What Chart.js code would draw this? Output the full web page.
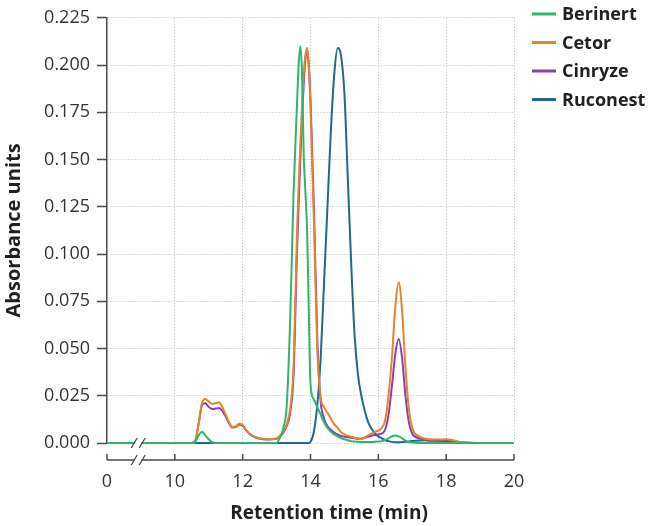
<!DOCTYPE html>
<html>
<head>
<meta charset="utf-8">
<script src="https://cdn.jsdelivr.net/npm/chart.js@4"></script>
<style>
  html, body { margin: 0; padding: 0; background: #fff; }
  canvas { display: block; }
</style>
</head>
<body>
<canvas id="hplcChart" width="650" height="526"></canvas>
<script>
// Size-exclusion HPLC traces of four C1-INH products
const retentionTime = [
    0, 10.0, 10.5, 10.6, 10.7, 10.8, 10.9, 11.0, 11.1, 11.2,
    11.3, 11.4, 11.5, 11.6, 11.7, 11.8, 11.9, 12.0, 12.1, 12.2,
    12.4, 12.6, 12.8, 13.0, 13.1, 13.2, 13.3, 13.4, 13.5, 13.6,
    13.65, 13.7, 13.75, 13.8, 13.85, 13.9, 13.95,
    14.0, 14.1, 14.2, 14.3, 14.4, 14.5, 14.6,
    14.7, 14.8, 14.9, 15.0, 15.1, 15.2, 15.3, 15.4, 15.5, 15.6,
    15.7, 15.8, 15.9, 16.0, 16.1, 16.2, 16.3, 16.4, 16.5, 16.6,
    16.7, 16.8, 16.9, 17.0, 17.2, 17.4, 17.6, 17.8, 18.0, 18.2,
    18.4, 18.6, 19.0, 20.0
];

const berinert = [
    0, 0, 0, 0.0005, 0.004, 0.006, 0.004, 0.002, 0.0005, 0,
    0, 0, 0, 0, 0, 0, 0, 0, 0, 0,
    0, 0, 0, 0, 0.003, 0.008, 0.02, 0.065, 0.132, 0.178,
    0.2, 0.21, 0.196, 0.152, 0.133, 0.112, 0.07,
    0.031, 0.023, 0.019, 0.015, 0.011, 0.008, 0.006,
    0.0045, 0.0035, 0.0025, 0.002, 0.0015, 0.001, 0.0008, 0.0006, 0.0005, 0.0005,
    0.0005, 0.0005, 0.0006, 0.0008, 0.001, 0.0015, 0.0025, 0.0035, 0.004, 0.0035,
    0.0025, 0.0012, 0.0005, 0.0002, 0, 0, 0, 0, 0, 0,
    0, 0, 0, 0
];

const cetor = [
    0, 0, 0, 0.001, 0.01, 0.021, 0.0233, 0.022, 0.0207, 0.021,
    0.0216, 0.019, 0.015, 0.011, 0.0085, 0.0088, 0.0103, 0.0095, 0.007, 0.005,
    0.003, 0.0022, 0.002, 0.0025, 0.004, 0.006, 0.01, 0.018, 0.04, 0.11,
    0.136, 0.158, 0.178, 0.195, 0.205, 0.209, 0.2,
    0.178, 0.118, 0.05, 0.024, 0.019, 0.016, 0.013,
    0.01, 0.008, 0.0058, 0.0045, 0.0038, 0.0033, 0.0028, 0.0023, 0.0022, 0.003,
    0.004, 0.005, 0.006, 0.0065, 0.008, 0.012, 0.025, 0.045, 0.072, 0.085,
    0.07, 0.04, 0.018, 0.008, 0.0035, 0.0022, 0.0018, 0.0018, 0.002, 0.0015,
    0.0006, 0.0002, 0, 0
];

const cinryze = [
    0, 0, 0, 0.001, 0.01, 0.02, 0.021, 0.019, 0.018, 0.0182,
    0.0185, 0.017, 0.014, 0.0105, 0.0082, 0.0085, 0.0098, 0.009, 0.0068, 0.0048,
    0.0028, 0.002, 0.0018, 0.0022, 0.0035, 0.0055, 0.009, 0.016, 0.036, 0.1,
    0.126, 0.15, 0.172, 0.19, 0.203, 0.208, 0.199,
    0.182, 0.125, 0.055, 0.022, 0.013, 0.009, 0.007,
    0.0055, 0.0045, 0.0037, 0.0033, 0.003, 0.0028, 0.0025, 0.0022, 0.0023, 0.0028,
    0.0033, 0.0038, 0.0042, 0.0045, 0.005, 0.007, 0.015, 0.03, 0.047, 0.055,
    0.045, 0.025, 0.011, 0.005, 0.0025, 0.0015, 0.0012, 0.0012, 0.0012, 0.0008,
    0.0004, 0.0001, 0, 0
];

const ruconest = [
    0, 0, 0, 0, 0, 0, 0, 0, 0, 0,
    0, 0, 0, 0, 0, 0, 0, 0, 0, 0,
    0, 0, 0, 0, 0, 0, 0, 0, 0, 0,
    0, 0, 0, 0, 0, 0, 0,
    0.0005, 0.006, 0.02, 0.045, 0.085, 0.125, 0.165,
    0.195, 0.209, 0.205, 0.185, 0.14, 0.095, 0.057, 0.036, 0.025, 0.017,
    0.011, 0.0075, 0.0052, 0.0035, 0.0025, 0.0015, 0.001, 0.0006, 0.0004, 0.0004,
    0.0005, 0.0006, 0.0008, 0.001, 0.0013, 0.0015, 0.0015, 0.0012, 0.001, 0.0006,
    0.0003, 0.0001, 0, 0
];

const seriesNames = ['Berinert', 'Cetor', 'Cinryze', 'Ruconest'];
const seriesValues = [berinert, cetor, cinryze, ruconest];
const seriesColors = ['#2db56e', '#e5832f', '#8b3fae', '#1e6a8c'];
const xTickValues = [0, 10, 12, 14, 16, 18, 20];
const yTickStep = 0.025;
const xTitle = 'Retention time (min)';

const FONT = '"Open Sans", "Noto Sans", sans-serif';
const AXIS_COLOR = '#4a4a4a';
const TEXT_COLOR = '#231f20';
const GRID_COLOR = '#b8b8b8';

// broken axis: 0..10 min squeezed into the width of 2 min
function axisPos(t) {
    return t < 10 ? 8 + t * 0.2 : t;
}
function axisLabel(u) {
    return u < 10 ? Math.round((u - 8) / 0.2) : u;
}

const breakPlugin = {
    id: 'breakAxis',
    afterDraw(chart) {
        const c = chart.ctx;
        const xs = chart.scales.x;
        const area = chart.chartArea;
        const axisY = area.bottom + 17;
        const bx = xs.getPixelForValue(axisPos(4.6));
        const x0 = xs.getPixelForValue(axisPos(0));
        const x1 = xs.getPixelForValue(20);
        c.save();
        c.strokeStyle = AXIS_COLOR;
        c.lineWidth = 1.5;
        // separate x axis line under the plot
        c.beginPath();
        c.moveTo(x0, axisY);
        c.lineTo(bx - 3, axisY);
        c.moveTo(bx + 3, axisY);
        c.lineTo(x1, axisY);
        xTickValues.forEach(v => {
            const px = xs.getPixelForValue(axisPos(v));
            c.moveTo(px, axisY);
            c.lineTo(px, axisY - 6);
        });
        c.stroke();
        // break marks on the axis and on the baseline
        [axisY, area.bottom].forEach(yy => {
            c.fillStyle = '#fff';
            c.fillRect(bx - 3, yy - 3, 6, 6);
            c.beginPath();
            c.moveTo(bx - 7, yy + 5);
            c.lineTo(bx - 1, yy - 5);
            c.moveTo(bx + 1, yy + 5);
            c.lineTo(bx + 7, yy - 5);
            c.lineWidth = 1.3;
            c.stroke();
        });
        // x title sits a little right of the axis centre
        c.font = 'bold 19px ' + FONT;
        c.fillStyle = TEXT_COLOR;
        c.textAlign = 'center';
        c.textBaseline = 'middle';
        c.fillText(xTitle, 329, 514);
        // legend
        c.font = 'bold 18px ' + FONT;
        c.textAlign = 'left';
        chart.data.datasets.forEach((ds, i) => {
            const ly = 14 + i * 28.5;
            c.strokeStyle = ds.borderColor;
            c.lineWidth = 3;
            c.beginPath();
            c.moveTo(532, ly);
            c.lineTo(556, ly);
            c.stroke();
            c.fillStyle = TEXT_COLOR;
            c.fillText(ds.label, 562, ly + 1);
        });
        c.restore();
    }
};

const ctx = document.getElementById('hplcChart').getContext('2d');
new Chart(ctx, {
    type: 'line',
    data: {
        datasets: seriesNames.map((name, i) => ({
            label: name,
            data: retentionTime.map((t, j) => ({ x: axisPos(t), y: seriesValues[i][j] })),
            borderColor: seriesColors[i],
            backgroundColor: seriesColors[i],
            borderWidth: 2,
            pointRadius: 0,
            cubicInterpolationMode: 'monotone',
            fill: false,
            clip: false
        }))
    },
    options: {
        responsive: false,
        animation: false,
        layout: { padding: { top: 12, right: 136, left: 0, bottom: 0 } },
        plugins: {
            legend: { display: false },
            tooltip: { enabled: false }
        },
        scales: {
            x: {
                type: 'linear',
                min: 8,
                max: 20,
                afterBuildTicks: scale => {
                    scale.ticks = xTickValues.map(v => ({ value: axisPos(v) }));
                },
                afterFit: scale => { scale.height = 83; },
                ticks: {
                    callback: v => axisLabel(v),
                    padding: 28,
                    maxRotation: 0,
                    color: '#333',
                    font: { family: FONT, size: 18 }
                },
                grid: {
                    color: c => (c.tick && c.tick.value < 10 ? 'rgba(0,0,0,0)' : GRID_COLOR),
                    lineWidth: 1,
                    drawTicks: false
                },
                border: { display: false, dash: [1, 2] },
                title: { display: false }
            },
            y: {
                min: 0,
                max: 0.225,
                afterFit: scale => { scale.width = 107; },
                ticks: {
                    stepSize: yTickStep,
                    callback: v => Number(v).toFixed(3),
                    padding: 7,
                    color: '#333',
                    font: { family: FONT, size: 18 }
                },
                grid: {
                    color: GRID_COLOR,
                    lineWidth: 1,
                    tickLength: 10,
                    tickColor: AXIS_COLOR,
                    tickWidth: 1.5,
                    tickBorderDash: []
                },
                border: { color: AXIS_COLOR, width: 1.5, dash: [1, 2] },
                title: {
                    display: true,
                    text: 'Absorbance units',
                    color: TEXT_COLOR,
                    font: { family: FONT, size: 20, weight: 'bold' },
                    padding: { top: 2, bottom: 0 }
                }
            }
        }
    },
    plugins: [breakPlugin]
});
</script>
</body>
</html>
